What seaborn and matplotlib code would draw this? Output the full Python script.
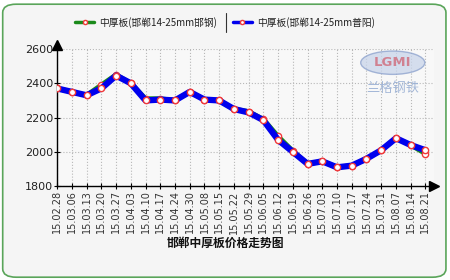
import numpy as np
import pandas as pd
import matplotlib
matplotlib.use("Agg")
import matplotlib.pyplot as plt
import seaborn as sns
from matplotlib.patches import FancyBboxPatch, Ellipse
from matplotlib.lines import Line2D

dates = ["15.02.28", "15.03.06", "15.03.13", "15.03.20", "15.03.27", "15.04.03",
         "15.04.10", "15.04.17", "15.04.24", "15.04.30", "15.05.08", "15.05.15",
         "15.05.22", "15.05.29", "15.06.05", "15.06.12", "15.06.19", "15.06.26",
         "15.07.03", "15.07.10", "15.07.17", "15.07.24", "15.07.31", "15.08.07",
         "15.08.14", "15.08.21"]
handan = [2370, 2350, 2330, 2390, 2450, 2400, 2310, 2310, 2300, 2350, 2305, 2300,
          2250, 2235, 2190, 2090, 2005, 1930, 1945, 1910, 1920, 1960, 2010, 2080,
          2040, 1990]
puyang = [2370, 2350, 2330, 2370, 2445, 2400, 2300, 2305, 2300, 2350, 2305, 2300,
          2250, 2230, 2185, 2070, 2000, 1930, 1945, 1910, 1920, 1960, 2010, 2080,
          2040, 2010]
series_names = ["中厚板(邯郸14-25mm邯钢)", "中厚板(邯郸14-25mm普阳)"]
yticks = [1800, 2000, 2200, 2400, 2600]
title = "邯郸中厚板价格走势图"

sns.set_theme(style="white")
plt.rcParams['font.family'] = ['Noto Sans CJK SC', 'DejaVu Sans']

fig = plt.figure(figsize=(4.5, 2.8), dpi=100)
fig.patch.set_facecolor("white")
bg = FancyBboxPatch((0.006, 0.01), 0.985, 0.975, boxstyle="round,pad=0,rounding_size=0.03",
                    transform=fig.transFigure, facecolor="#f5f5f5", edgecolor="#5aa55a",
                    linewidth=1.2, zorder=-10)
fig.patches.append(bg)

ax = fig.add_axes([0.127, 0.335, 0.838, 0.49])
ax.set_zorder(1)
ax.set_facecolor("#f8f8f8")

x = np.arange(len(dates))
df1 = pd.DataFrame({"x": x, "price": handan})
df2 = pd.DataFrame({"x": x, "price": puyang})
mk = dict(marker="o", markersize=4.5, markerfacecolor="white",
          markeredgecolor="#f03a3a", markeredgewidth=1.0)
sns.lineplot(data=df1, x="x", y="price", ax=ax, color="#1a8a1a", linewidth=3.5, zorder=3, **mk)
sns.lineplot(data=df2, x="x", y="price", ax=ax, color="#0000ee", linewidth=4.5, zorder=4, **mk)

ax.set_xlim(0, 25.6)
ax.set_ylim(1800, 2600)
ax.set_xticks(x)
ax.set_xticklabels(dates, rotation=90, fontsize=7, color="#333333", family="DejaVu Sans")
ax.set_yticks(yticks)
ax.set_yticklabels([str(v) for v in yticks], fontsize=8, color="#222222", family="DejaVu Sans")
ax.set_xlabel("")
ax.set_ylabel("")
ax.tick_params(axis="both", direction="inout", length=4, width=0.8, color="black", pad=1,
               bottom=True, left=True)
for s in ["top", "right"]:
    ax.spines[s].set_visible(False)
for s in ["left", "bottom"]:
    ax.spines[s].set_color("black")
    ax.spines[s].set_linewidth(1)
ax.grid(True, axis="both", linestyle=":", color="#b8b8b8", linewidth=0.8)

# arrows
ax.plot([0], [1.03], marker="^", color="black", markersize=7, transform=ax.transAxes, clip_on=False)
ax.plot([0, 0], [1.0, 1.03], color="black", lw=1, transform=ax.transAxes, clip_on=False)
ax.plot([1.0], [0], marker=">", color="black", markersize=7, transform=ax.transAxes, clip_on=False)

# watermark
ax.add_patch(Ellipse((0.89, 0.9), 0.17, 0.17, transform=ax.transAxes,
                     facecolor="#c8d4ea", edgecolor="#8aa0cc", alpha=0.75, zorder=2))
ax.text(0.89, 0.9, "LGMI", transform=ax.transAxes, ha="center", va="center",
        fontsize=9.5, color="#d06a7a", fontweight="bold", alpha=0.8, zorder=2, family="DejaVu Sans")
ax.text(0.89, 0.71, "兰格钢铁", transform=ax.transAxes, ha="center", va="center",
        fontsize=9.5, color="#9ab0d4", alpha=0.9, zorder=2)

# legend
handles = [Line2D([], [], color="#1a8a1a", lw=2.5, **{**mk, "markersize": 3}),
           Line2D([], [], color="#0000ee", lw=2.5, **{**mk, "markersize": 3})]
fig.legend(handles, series_names, loc="center", bbox_to_anchor=(0.5, 0.92), ncol=2,
           frameon=False, fontsize=7, handlelength=2.0, columnspacing=1.6,
           handletextpad=0.5, labelcolor="#222222")
fig.add_artist(Line2D([0.502, 0.502], [0.885, 0.955], color="#333333", lw=0.8,
                      transform=fig.transFigure))

fig.text(0.5, 0.13, title, ha="center", va="center", fontsize=8.5, fontweight="bold",
         color="#111111")

fig.savefig("out.png", dpi=100, facecolor=fig.get_facecolor())
